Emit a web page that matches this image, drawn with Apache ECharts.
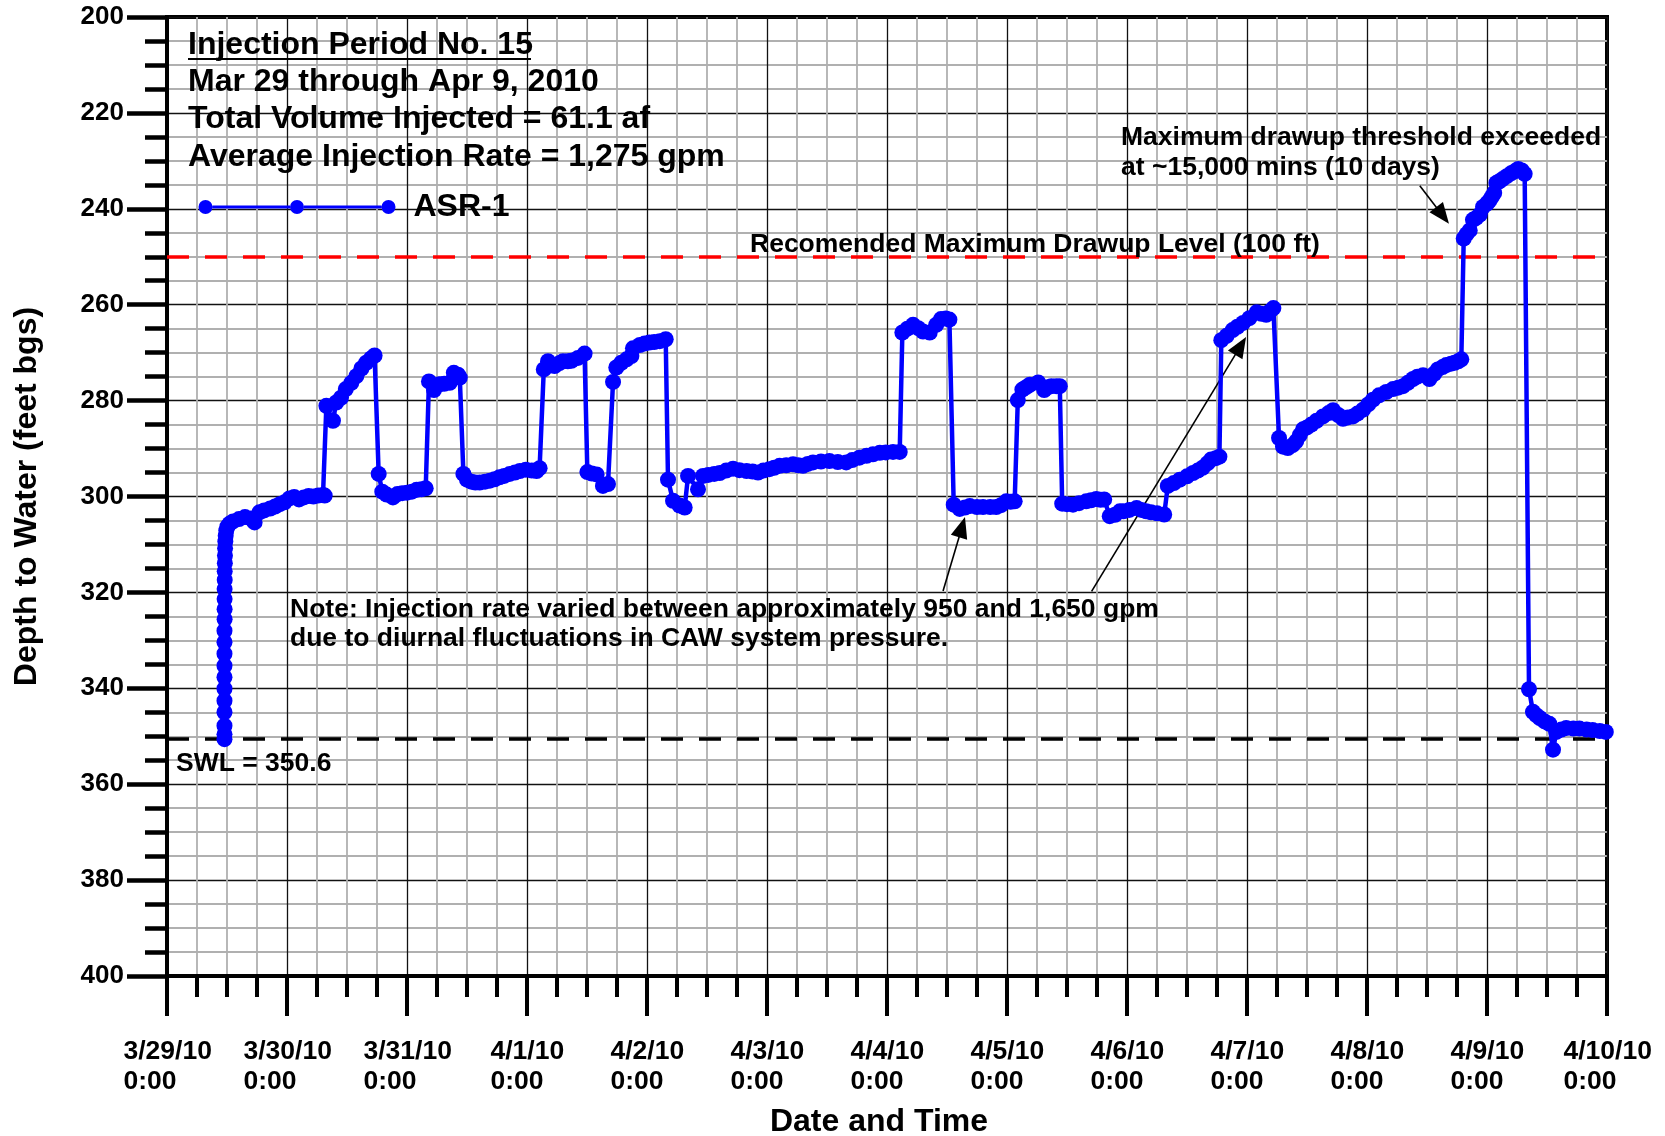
<!DOCTYPE html>
<html>
<head>
<meta charset="utf-8">
<title>ASR-1 Injection Period No. 15</title>
<script src="https://cdn.jsdelivr.net/npm/echarts@6/dist/echarts.min.js"></script>
<style>
  html, body { margin: 0; padding: 0; background: #ffffff; }
  #chart { width: 1665px; height: 1136px; }
</style>
</head>
<body>
<div id="chart"></div>
<script>
// Elapsed time (days since 3/29/10 0:00) and depth to water (feet bgs) for ASR-1
const elapsedDays = [
  0.479, 0.479, 0.479, 0.479, 0.479, 0.479, 0.479, 0.479, 0.479, 0.479, 0.479,
  0.480, 0.480, 0.480, 0.480, 0.481, 0.481, 0.482, 0.483, 0.484, 0.486, 0.489,
  0.494, 0.503, 0.520, 0.550, 0.600, 0.650, 0.700, 0.730, 0.770, 0.810, 0.860,
  0.900, 0.940, 0.980, 1.020, 1.060, 1.100, 1.140, 1.180, 1.220, 1.260, 1.300, 1.314,
  1.328, 1.383, 1.410, 1.450, 1.490, 1.536, 1.578, 1.620, 1.660, 1.700, 1.730,
  1.764, 1.794, 1.830, 1.883, 1.920, 1.960, 2.000, 2.040, 2.080, 2.120, 2.156,
  2.183, 2.225, 2.270, 2.310, 2.356, 2.390, 2.425, 2.440,
  2.470, 2.500, 2.536, 2.570, 2.606, 2.650, 2.690, 2.730, 2.770, 2.810, 2.856,
  2.900, 2.940, 2.990, 3.040, 3.080, 3.105,
  3.140, 3.175, 3.230, 3.270, 3.300, 3.340, 3.370, 3.425, 3.480,
  3.503, 3.540, 3.580, 3.633, 3.675,
  3.717, 3.744, 3.786, 3.830, 3.870, 3.883, 3.940, 3.980, 4.020, 4.060, 4.106, 4.156,
  4.175, 4.217, 4.272, 4.314, 4.342, 4.425, 4.467, 4.510, 4.560, 4.606, 4.660,
  4.717, 4.770, 4.830, 4.880, 4.925, 4.970, 5.020, 5.060, 5.105, 5.160, 5.217,
  5.260, 5.300, 5.340, 5.383, 5.450, 5.520, 5.590, 5.660, 5.710, 5.770, 5.830,
  5.883, 5.940, 5.990, 6.050, 6.106,
  6.128, 6.170, 6.217, 6.260, 6.300, 6.356, 6.410, 6.450, 6.490, 6.520,
  6.556, 6.606, 6.650, 6.690, 6.750, 6.800, 6.860, 6.910, 6.950, 6.994, 7.030, 7.064,
  7.090, 7.128, 7.160, 7.190, 7.260, 7.310, 7.340, 7.370, 7.410, 7.440,
  7.460, 7.500, 7.550, 7.600, 7.660, 7.700, 7.744, 7.780, 7.810, 7.856, 7.900,
  7.940, 7.970, 8.020, 8.080, 8.120, 8.160, 8.200, 8.250, 8.310,
  8.340, 8.390, 8.440, 8.500, 8.550, 8.590, 8.630, 8.670, 8.700, 8.740, 8.770,
  8.786, 8.830, 8.880, 8.920, 8.967, 9.020, 9.080, 9.120, 9.160, 9.190, 9.220,
  9.267, 9.300, 9.340, 9.380, 9.410, 9.440, 9.467, 9.500, 9.536, 9.580, 9.633,
  9.680, 9.717, 9.760, 9.800, 9.840, 9.883, 9.920, 9.967, 10.010, 10.050, 10.100,
  10.160, 10.217, 10.260, 10.300, 10.340, 10.383, 10.420, 10.467, 10.520, 10.560,
  10.590, 10.630, 10.660, 10.700, 10.730, 10.760, 10.786,
  10.806, 10.830, 10.856, 10.883, 10.910, 10.940, 10.967, 11.000, 11.020, 11.040,
  11.060, 11.078, 11.100, 11.130, 11.165, 11.200, 11.230, 11.260, 11.290, 11.314,
  11.350, 11.383, 11.410, 11.440, 11.480, 11.520, 11.550, 11.578, 11.620, 11.660,
  11.720, 11.770, 11.830, 11.880, 11.940, 11.990
];

const depthFt = [
  350.6, 349.6, 347.8, 345.0, 342.6, 340.1, 337.7, 335.3, 332.8, 330.4, 328.0,
  325.6, 323.5, 321.4, 319.3, 317.4, 315.6, 313.9, 312.3, 310.8, 309.4, 308.2,
  307.1, 306.3, 305.7, 305.2, 304.7, 304.3, 304.6, 305.4, 303.3, 302.9, 302.5,
  302.1, 301.6, 301.2, 300.4, 300.1, 300.6, 300.2, 299.9, 300.0, 299.8, 299.7, 299.8,
  281.1, 284.2, 280.4, 279.4, 277.6, 276.3, 274.9, 273.3, 272.1, 271.2, 270.6,
  295.3, 299.0, 299.6, 300.2, 299.5, 299.3, 299.2, 299.0, 298.6, 298.5, 298.3,
  276.0, 277.8, 276.6, 276.5, 276.3, 274.2, 274.6, 275.2,
  295.3, 296.5, 296.9, 297.1, 297.1, 296.9, 296.7, 296.4, 296.0, 295.7, 295.3,
  295.0, 294.7, 294.4, 294.6, 294.7, 294.1,
  273.5, 271.8, 272.8, 272.2, 271.8, 271.8, 271.7, 271.1, 270.2,
  294.9, 295.2, 295.4, 297.8, 297.4,
  276.1, 273.1, 272.1, 271.4, 270.7, 269.1, 268.4, 268.1, 267.9, 267.8, 267.6, 267.2,
  296.5, 300.9, 301.9, 302.3, 295.7, 298.5, 295.7, 295.5, 295.3, 295.1, 294.6,
  294.2, 294.5, 294.7, 294.8, 295.0, 294.6, 294.3, 294.0, 293.6, 293.5, 293.3,
  293.5, 293.6, 293.2, 292.9, 292.7, 292.6, 292.8, 292.9, 292.4, 291.9, 291.5,
  291.2, 290.9, 290.8, 290.7, 290.7,
  265.8, 265.0, 264.2, 264.9, 265.6, 265.8, 264.2, 263.0, 262.9, 263.1,
  301.7, 302.6, 302.3, 302.0, 302.2, 302.2, 302.2, 302.2, 301.8, 301.0, 301.1, 301.0,
  279.9, 277.7, 277.2, 276.7, 276.2, 277.8, 277.2, 277.0, 277.0, 277.0,
  301.5, 301.6, 301.7, 301.4, 301.0, 300.8, 300.5, 300.7, 300.6, 304.1, 303.8,
  303.1, 303.1, 302.8, 302.4, 302.8, 303.1, 303.3, 303.5, 303.75,
  297.8, 297.2, 296.5, 295.8, 295.1, 294.6, 294.0, 293.1, 292.3, 292.0, 291.7,
  267.4, 266.5, 265.3, 264.6, 263.8, 262.8, 261.6, 261.9, 262.1, 261.4, 260.7,
  287.8, 289.6, 289.9, 289.3, 288.5, 287.2, 286.0, 285.6, 285.0, 284.2, 283.3,
  282.6, 282.0, 283.0, 283.8, 283.5, 283.3, 282.7, 281.9, 280.8, 279.8, 278.9,
  278.2, 277.6, 277.3, 277.0, 276.3, 275.5, 275.0, 274.7, 275.5, 274.4,
  273.5, 273.0, 272.6, 272.3, 272.1, 271.8, 271.4,
  246.2, 245.3, 244.5, 242.3, 241.9, 241.2, 239.6, 238.9, 238.3, 237.5,
  236.7, 234.6, 234.3, 233.8, 233.2, 232.6, 232.2, 231.7, 232.0, 232.7,
  340.2, 344.9, 345.6, 346.2, 346.9, 347.4, 352.8, 349.1, 348.6, 348.3,
  348.4, 348.4, 348.6, 348.7, 348.9, 349.1
];

// Reference levels (feet bgs)
const maxDrawupLevel = 250;
const staticWaterLevel = 350.6;

// Date tick labels, one per day
const dateLabels = ['3/29/10', '3/30/10', '3/31/10', '4/1/10', '4/2/10', '4/3/10',
  '4/4/10', '4/5/10', '4/6/10', '4/7/10', '4/8/10', '4/9/10', '4/10/10'];
const timeLabel = '0:00';

// Header text block
const headerLines = [
  'Injection Period No. 15',
  'Mar 29 through Apr 9, 2010',
  'Total Volume Injected = 61.1 af',
  'Average Injection Rate = 1,275 gpm'
];
const noteLines = [
  'Note: Injection rate varied between approximately 950 and 1,650 gpm',
  'due to diurnal fluctuations in CAW system pressure.'
];
const exceedLines = [
  'Maximum drawup threshold exceeded',
  'at ~15,000 mins (10 days)'
];

const seriesData = elapsedDays.map((d, i) => [d, depthFt[i]]);

const FONT = '"Liberation Sans", Arial, Helvetica, sans-serif';
const BLUE = '#0000ff';

const chart = echarts.init(document.getElementById('chart'), null, { renderer: 'canvas' });

function textEl(str, x, y, size) {
  return {
    type: 'text', x: x, y: y, z: 50,
    style: {
      text: str, fill: '#000',
      font: 'bold ' + size + 'px ' + FONT,
      align: 'left', verticalAlign: 'middle'
    }
  };
}

const labelStyle = { fontFamily: FONT, fontWeight: 'bold', fontSize: 26.5, color: '#000', lineHeight: 30, align: 'left' };

// Legend glyph: line with three markers
const legendIcon = 'path://' +
  'M14,5.5 H91.5 V8.5 H14 Z M105.5,5.5 H183 V8.5 H105.5 Z ' +
  'M0,7 A7,7 0 1,0 14,7 A7,7 0 1,0 0,7 Z ' +
  'M91.5,7 A7,7 0 1,0 105.5,7 A7,7 0 1,0 91.5,7 Z ' +
  'M183,7 A7,7 0 1,0 197,7 A7,7 0 1,0 183,7 Z';

const arrowLine = { color: '#000', width: 1.6, type: 'solid' };
function arrow(x1, y1, x2, y2) {
  return [
    { coord: [x1, y1], symbol: 'none', lineStyle: arrowLine },
    { coord: [x2, y2], symbol: 'triangle', symbolSize: [17, 21], lineStyle: arrowLine }
  ];
}

const option = {
  animation: false,
  backgroundColor: '#ffffff',
  textStyle: { fontFamily: FONT },
  grid: {
    left: 167, right: 58, top: 17, bottom: 160,
    containLabel: false, outerBoundsMode: 'none',
    show: true, borderColor: '#000', borderWidth: 4, backgroundColor: 'transparent'
  },
  legend: {
    data: ['ASR-1'],
    left: 193.5, top: 186,
    icon: legendIcon,
    itemWidth: 197, itemHeight: 14,
    textStyle: { fontFamily: FONT, fontWeight: 'bold', fontSize: 32, color: '#000', padding: [0, 0, 0, 13] },
    selectedMode: false
  },
  xAxis: {
    type: 'value', min: 0, max: 12, interval: 1,
    name: 'Date and Time', nameLocation: 'middle', nameGap: 130,
    nameTextStyle: { fontFamily: FONT, fontWeight: 'bold', fontSize: 32, color: '#000', padding: [0, 16, 0, 0] },
    axisLine: { show: true, onZero: false, lineStyle: { color: '#000', width: 4 } },
    axisTick: { show: true, inside: false, length: 40, lineStyle: { color: '#000', width: 4 } },
    minorTick: { show: true, splitNumber: 4, length: 21, lineStyle: { color: '#000', width: 4 } },
    splitLine: { show: true, lineStyle: { color: '#111', width: 1.3 } },
    minorSplitLine: { show: true, lineStyle: { color: '#b0b0b0', width: 1.8 } },
    axisLabel: {
      margin: 61, align: 'center',
      formatter: function (v) {
        const lbl = dateLabels[Math.round(v)];
        const key = lbl.length > 6 ? 'w7' : 'w6';
        return '{' + key + '|' + lbl + '}\n{' + key + '|' + timeLabel + '}';
      },
      rich: {
        w7: Object.assign({ width: 87 }, labelStyle),
        w6: Object.assign({ width: 73 }, labelStyle)
      }
    }
  },
  yAxis: {
    type: 'value', min: 200, max: 400, interval: 20, inverse: true,
    name: 'Depth to Water (feet bgs)', nameLocation: 'middle', nameGap: 124,
    nameTextStyle: { fontFamily: FONT, fontWeight: 'bold', fontSize: 32, color: '#000' },
    axisLine: { show: true, onZero: false, lineStyle: { color: '#000', width: 4 } },
    axisTick: { show: true, inside: false, length: 40, lineStyle: { color: '#000', width: 4.5 } },
    minorTick: { show: true, splitNumber: 4, length: 22, lineStyle: { color: '#000', width: 4.5 } },
    splitLine: { show: true, lineStyle: { color: '#111', width: 1.3 } },
    minorSplitLine: { show: true, lineStyle: { color: '#b0b0b0', width: 1.8 } },
    axisLabel: {
      margin: 43, fontFamily: FONT, fontWeight: 'bold', fontSize: 26, color: '#000'
    }
  },
  series: [{
    name: 'ASR-1',
    type: 'line',
    data: seriesData,
    symbol: 'circle', symbolSize: 16, showAllSymbol: true,
    lineStyle: { color: BLUE, width: 4.5 },
    itemStyle: { color: BLUE },
    z: 5,
    markLine: {
      silent: true, animation: false,
      symbol: ['none', 'none'],
      label: { show: false },
      emphasis: { disabled: true },
      data: [
        { yAxis: maxDrawupLevel, lineStyle: { color: '#ff0000', width: 3.5, type: [22, 16] } },
        { yAxis: staticWaterLevel, lineStyle: { color: '#000', width: 3.5, type: [22, 16] } },
        arrow(6.467, 319.7, 6.625, 306.4),
        arrow(7.705, 319.8, 8.947, 268.6),
        arrow(10.44, 235.2, 10.63, 241.4)
      ]
    }
  }],
  graphic: [
    textEl(headerLines[0], 188, 45, 32),
    { type: 'line', z: 50, shape: { x1: 188, y1: 59, x2: 531, y2: 59 }, style: { stroke: '#000', lineWidth: 2.2 } },
    textEl(headerLines[1], 188, 82, 32),
    textEl(headerLines[2], 188, 119, 32),
    textEl(headerLines[3], 188, 157, 32),
    textEl('Recomended Maximum Drawup Level (100 ft)', 750, 245, 26.5),
    textEl(exceedLines[0], 1121, 138, 26.5),
    textEl(exceedLines[1], 1121, 168, 26.5),
    textEl(noteLines[0], 290, 610, 26.5),
    textEl(noteLines[1], 290, 639, 26.5),
    textEl('SWL = 350.6', 176, 764, 26.5)
  ]
};

chart.setOption(option);
</script>
</body>
</html>
